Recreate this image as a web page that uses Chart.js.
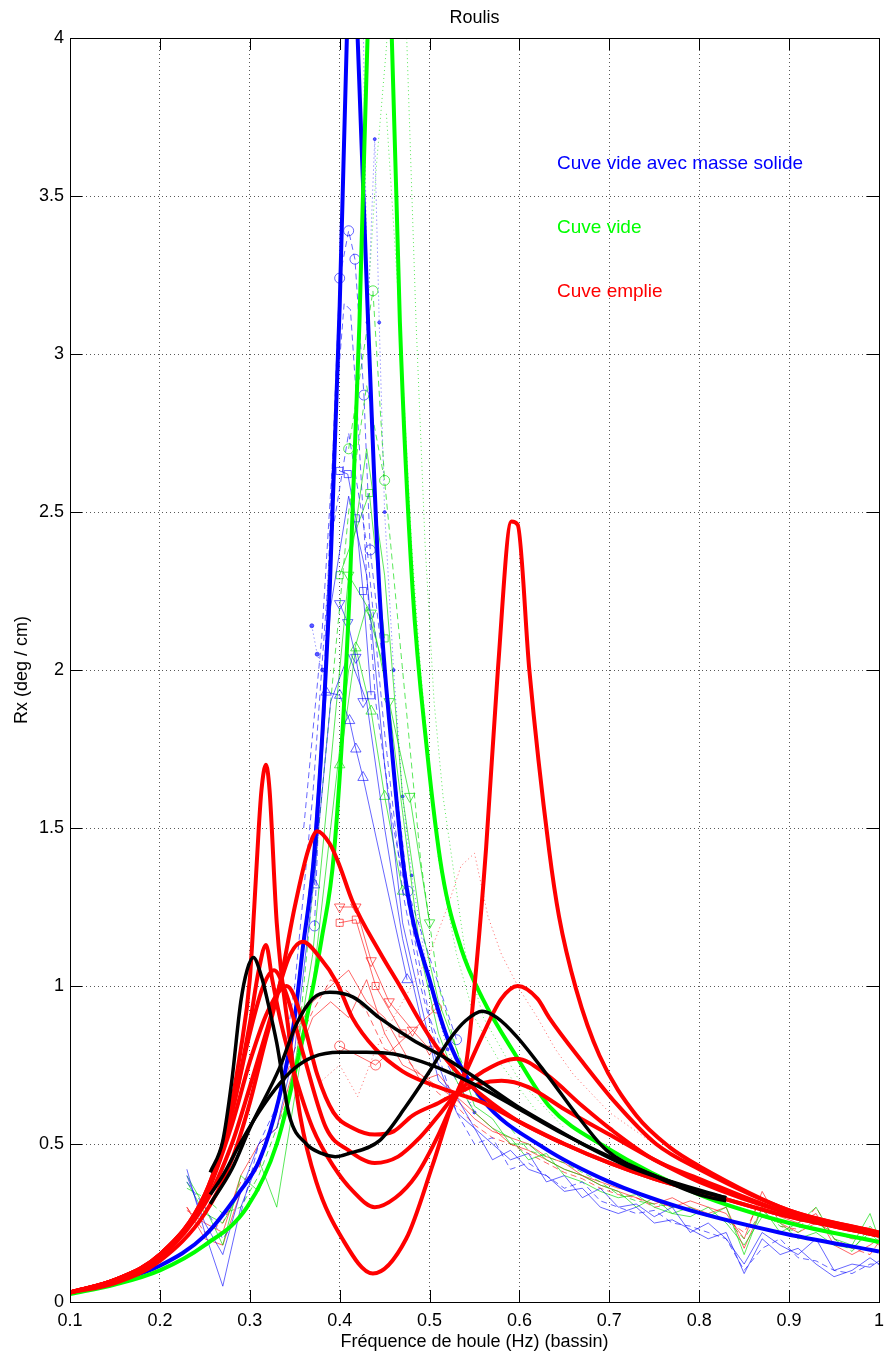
<!DOCTYPE html>
<html>
<head>
<meta charset="utf-8">
<title>Roulis</title>
<script src="https://cdn.jsdelivr.net/npm/chart.js@4.4.1/dist/chart.umd.min.js"></script>
<style>
  html, body { margin: 0; padding: 0; background: #fff; }
  #wrap { width: 886px; height: 1358px; }
</style>
</head>
<body>
<div id="wrap"><canvas id="roulis" width="886" height="1358"></canvas></div>
<script>
// axis ticks
var xTicks = [0.1, 0.2, 0.3, 0.4, 0.5, 0.6, 0.7, 0.8, 0.9, 1];
var yTicks = [0, 0.5, 1, 1.5, 2, 2.5, 3, 3.5, 4];

// modele - cuve vide avec masse solide (bleu)
var freqBlue = [0.10,0.15,0.20,0.25,0.289,0.311,0.333,0.35,0.359,0.372,0.389,0.40,0.408,0.414,0.42,0.431,0.444,0.458,0.472,0.503,0.522,0.559,0.626,0.70,0.778,0.889,1.00];
var rxBlue   = [0.03,0.065,0.115,0.21,0.35,0.45,0.65,0.9,1.12,1.43,2.26,3.15,4.0,4.5,4.0,3.15,2.26,1.75,1.36,0.99,0.82,0.64,0.49,0.38,0.30,0.22,0.16];

// modele - cuve vide (vert)
var freqGreen = [0.10,0.15,0.20,0.25,0.297,0.33,0.359,0.38,0.394,0.411,0.422,0.431,0.444,0.458,0.467,0.481,0.497,0.514,0.535,0.559,0.596,0.633,0.696,0.80,0.90,1.00];
var rxGreen   = [0.025,0.055,0.10,0.18,0.30,0.5,0.84,1.15,1.43,2.24,3.1,4.0,4.6,4.0,3.1,2.26,1.75,1.36,1.12,0.96,0.78,0.62,0.49,0.34,0.25,0.19];

// modeles - cuve emplie (rouge)
var freqRedA = [0.10,0.15,0.20,0.25,0.27,0.29,0.30,0.305,0.31,0.313,0.318,0.322,0.33,0.344,0.356,0.374,0.403,0.437,0.474,0.503,0.522,0.541,0.552,0.563,0.576,0.591,0.598,0.611,0.633,0.644,0.663,0.689,0.73,0.767,0.80,0.90,1.00];
var rxRedA   = [0.03,0.07,0.15,0.33,0.5,0.8,1.02,1.25,1.5,1.62,1.70,1.62,1.2,0.84,0.59,0.38,0.2,0.09,0.2,0.43,0.6,0.76,1.06,1.44,2.0,2.47,2.46,2.0,1.43,1.22,0.99,0.78,0.59,0.49,0.43,0.29,0.22];
var freqRedB = [0.10,0.15,0.20,0.25,0.28,0.30,0.31,0.318,0.325,0.335,0.35,0.37,0.393,0.415,0.439,0.462,0.485,0.51,0.53,0.56,0.58,0.598,0.62,0.633,0.67,0.707,0.752,0.80,0.90,1.00];
var rxRedB   = [0.03,0.07,0.15,0.34,0.6,0.88,1.05,1.13,1.02,0.88,0.72,0.55,0.43,0.35,0.30,0.33,0.40,0.53,0.66,0.85,0.96,1.0,0.96,0.90,0.76,0.63,0.50,0.42,0.29,0.22];
var freqRedC = [0.10,0.15,0.20,0.25,0.28,0.30,0.315,0.327,0.34,0.36,0.385,0.41,0.439,0.465,0.489,0.51,0.53,0.56,0.597,0.63,0.67,0.70,0.75,0.80,0.90,1.00];
var rxRedC   = [0.03,0.07,0.15,0.34,0.6,0.85,1.0,1.05,0.98,0.78,0.55,0.48,0.44,0.46,0.52,0.59,0.66,0.73,0.77,0.72,0.62,0.55,0.45,0.39,0.28,0.21];
var freqRedD = [0.10,0.15,0.20,0.25,0.28,0.30,0.32,0.341,0.36,0.375,0.393,0.415,0.439,0.46,0.481,0.51,0.53,0.555,0.58,0.61,0.65,0.70,0.75,0.80,0.90,1.00];
var rxRedD   = [0.03,0.07,0.15,0.33,0.56,0.76,0.92,1.0,0.88,0.72,0.60,0.55,0.53,0.54,0.59,0.63,0.66,0.69,0.70,0.68,0.61,0.53,0.45,0.38,0.28,0.21];
var freqRedE = [0.10,0.15,0.20,0.25,0.28,0.30,0.32,0.333,0.345,0.359,0.378,0.397,0.414,0.44,0.47,0.50,0.53,0.56,0.60,0.65,0.70,0.75,0.80,0.90,1.00];
var rxRedE   = [0.03,0.07,0.14,0.31,0.5,0.68,0.87,1.0,1.1,1.14,1.09,1.01,0.9,0.8,0.73,0.69,0.66,0.63,0.57,0.5,0.44,0.39,0.35,0.27,0.21];
var freqRedF = [0.10,0.15,0.20,0.25,0.28,0.30,0.315,0.333,0.35,0.365,0.375,0.389,0.40,0.414,0.444,0.467,0.50,0.533,0.56,0.60,0.65,0.70,0.75,0.80,0.90,1.00];
var rxRedF   = [0.03,0.06,0.13,0.28,0.45,0.63,0.8,1.0,1.25,1.43,1.49,1.45,1.38,1.27,1.11,1.0,0.84,0.72,0.65,0.57,0.5,0.44,0.39,0.35,0.27,0.21];

// modeles noirs
var freqK1 = [0.256,0.27,0.28,0.29,0.297,0.304,0.313,0.32,0.33,0.344,0.363,0.38,0.395,0.41,0.444,0.474,0.50,0.522,0.54,0.559,0.575,0.597,0.633,0.667,0.697,0.75,0.80,0.83];
var rxK1   = [0.41,0.51,0.7,0.95,1.05,1.09,1.03,0.95,0.82,0.59,0.5,0.47,0.46,0.47,0.51,0.62,0.73,0.83,0.89,0.92,0.9,0.84,0.71,0.58,0.48,0.40,0.34,0.32];
var freqK2 = [0.256,0.28,0.30,0.333,0.352,0.37,0.389,0.415,0.444,0.481,0.519,0.556,0.597,0.633,0.67,0.72,0.77,0.83];
var rxK2   = [0.31,0.42,0.55,0.74,0.88,0.96,0.98,0.965,0.9,0.83,0.77,0.7,0.62,0.56,0.5,0.43,0.38,0.33];
var freqK3 = [0.256,0.27,0.289,0.31,0.333,0.35,0.37,0.40,0.43,0.46,0.481,0.519,0.556,0.60,0.65,0.70,0.75,0.80,0.83];
var rxK3   = [0.34,0.40,0.5,0.6,0.69,0.74,0.775,0.79,0.79,0.785,0.77,0.73,0.68,0.61,0.53,0.46,0.40,0.35,0.33];

// essais en houle irreguliere (traits fins)
var freqTest = [0.23,0.25,0.27,0.29,0.31,0.33,0.35,0.37,0.39,0.41,0.43,0.45,0.47,0.49,0.51,0.53,0.55,0.57,0.59,0.61,0.63,0.65,0.67,0.69,0.71,0.73,0.75,0.77,0.79,0.81,0.83,0.85,0.87,0.89,0.91,0.93,0.95,0.97,0.99,1.0];
var rxTestBlue1  = [0.42,0.22,0.05,0.30,0.45,0.60,0.90,1.40,2.20,2.55,2.30,1.70,1.20,0.95,0.70,0.65,0.55,0.50,0.45,0.47,0.38,0.40,0.33,0.36,0.30,0.31,0.27,0.30,0.22,0.25,0.20,0.12,0.22,0.18,0.15,0.20,0.10,0.12,0.11,0.13];
var rxTestBlue2  = [0.40,0.25,0.15,0.35,0.50,0.55,0.80,1.30,1.90,2.05,1.90,1.50,1.15,0.90,0.75,0.60,0.55,0.45,0.48,0.42,0.40,0.35,0.36,0.30,0.28,0.30,0.25,0.26,0.23,0.20,0.22,0.09,0.20,0.15,0.17,0.12,0.08,0.10,0.14,0.12];
var rxTestBlue3  = [0.38,0.30,0.20,0.28,0.50,0.62,1.00,1.60,2.40,2.75,2.40,1.80,1.30,1.00,0.78,0.60,0.50,0.52,0.42,0.44,0.40,0.36,0.38,0.32,0.30,0.28,0.29,0.25,0.24,0.22,0.20,0.10,0.17,0.20,0.14,0.13,0.10,0.09,0.12,0.12];
var rxTestGreen1 = [0.40,0.30,0.18,0.40,0.35,0.50,0.75,1.10,1.70,2.30,2.70,2.30,1.60,1.20,0.95,0.80,0.62,0.58,0.50,0.50,0.45,0.42,0.40,0.37,0.35,0.30,0.33,0.28,0.30,0.27,0.30,0.15,0.30,0.22,0.25,0.30,0.20,0.18,0.28,0.20];
var rxTestGreen2 = [0.38,0.28,0.25,0.35,0.45,0.30,0.65,1.00,1.50,2.00,2.20,2.00,1.55,1.10,0.85,0.70,0.60,0.55,0.52,0.45,0.47,0.40,0.38,0.35,0.33,0.34,0.30,0.28,0.27,0.30,0.25,0.18,0.27,0.25,0.20,0.22,0.18,0.17,0.22,0.19];
var rxTestGreen3 = [0.36,0.33,0.28,0.30,0.40,0.55,0.70,1.30,1.90,2.50,2.90,2.60,2.00,1.40,1.00,0.80,0.66,0.60,0.55,0.48,0.46,0.44,0.41,0.38,0.34,0.32,0.31,0.30,0.29,0.28,0.26,0.20,0.29,0.24,0.22,0.26,0.20,0.16,0.24,0.21];
var rxTestRed1   = [0.30,0.20,0.18,0.35,0.45,0.60,0.85,0.95,1.00,1.05,0.95,0.90,0.80,0.70,0.72,0.65,0.60,0.55,0.50,0.48,0.45,0.42,0.40,0.38,0.36,0.35,0.32,0.30,0.32,0.30,0.28,0.20,0.35,0.25,0.22,0.25,0.22,0.20,0.20,0.18];
var rxTestRed2   = [0.29,0.25,0.22,0.40,0.50,0.55,0.75,0.90,0.95,0.90,1.02,0.85,0.75,0.72,0.68,0.64,0.58,0.54,0.52,0.50,0.46,0.44,0.40,0.37,0.35,0.33,0.31,0.33,0.30,0.28,0.30,0.17,0.30,0.27,0.25,0.28,0.18,0.15,0.18,0.20];
var rxTestRed3   = [0.30,0.22,0.25,0.38,0.42,0.62,0.80,0.92,1.02,0.98,0.92,0.80,0.78,0.72,0.66,0.62,0.56,0.52,0.50,0.47,0.44,0.41,0.39,0.36,0.34,0.33,0.30,0.31,0.29,0.27,0.26,0.22,0.33,0.24,0.23,0.30,0.20,0.17,0.15,0.19];

// essais en houle reguliere (marqueurs)
var freqBlueCirc = [0.372,0.40,0.41,0.417,0.427,0.434,0.476,0.53];
var rxBlueCirc   = [1.19,3.24,3.39,3.30,2.87,2.38,1.30,0.83];
var freqBlueSq = [0.40,0.409,0.418,0.426,0.435];
var rxBlueSq   = [2.63,2.62,2.48,2.25,1.92];
var freqBlueTriDn = [0.40,0.409,0.418,0.426];
var rxBlueTriDn   = [2.21,2.15,2.04,1.90];
var freqBlueTriUp = [0.372,0.385,0.40,0.411,0.418,0.426,0.475];
var rxBlueTriUp   = [1.32,1.93,1.92,1.84,1.75,1.66,1.02];
var freqBlueDash = [0.36,0.38,0.395,0.405,0.412,0.42,0.43,0.44,0.46,0.48,0.50,0.52,0.55];
var rxBlueDash   = [1.5,2.1,2.8,3.16,3.14,2.8,2.3,1.9,1.5,1.2,0.9,0.75,0.6];
var freqBlueDot = [0.426,0.431,0.439,0.444,0.45,0.46,0.47,0.48,0.50,0.52,0.55];
var rxBlueDot   = [4.1,3.1,3.68,3.1,2.5,2.0,1.6,1.35,1.0,0.8,0.6];
var freqBlueDot2 = [0.369,0.375,0.381];
var rxBlueDot2   = [2.14,2.05,2.0];
var freqGreenTriUp = [0.40,0.418,0.435,0.45,0.47];
var rxGreenTriUp   = [1.7,2.07,1.87,1.6,1.3];
var freqGreenTriDn = [0.41,0.435,0.455,0.478,0.50];
var rxGreenTriDn   = [2.3,2.18,1.9,1.60,1.2];
var freqGreenCirc = [0.41,0.437,0.45];
var rxGreenCirc   = [2.7,3.2,2.6];
var freqGreenSq = [0.40,0.433,0.45];
var rxGreenSq   = [2.3,2.56,2.1];
var freqGreenDot1 = [0.43,0.441,0.452,0.456];
var rxGreenDot1   = [3.1,3.6,3.97,4.2];
var freqGreenDot2 = [0.452,0.467,0.48,0.49,0.50,0.51,0.53,0.55,0.58,0.62];
var rxGreenDot2   = [3.76,3.1,2.4,2.0,1.7,1.4,1.1,0.9,0.75,0.6];
var freqGreenDot3 = [0.474,0.485,0.495,0.505,0.515,0.525,0.54,0.56,0.60,0.65];
var rxGreenDot3   = [4.05,3.1,2.4,1.9,1.6,1.4,1.1,0.9,0.7,0.55];
var freqRedTriDn = [0.40,0.418,0.435,0.455,0.481,0.50];
var rxRedTriDn   = [1.25,1.25,1.08,0.95,0.86,0.8];
var freqRedSq = [0.40,0.418,0.44,0.47];
var rxRedSq   = [1.2,1.21,1.0,0.85];
var freqRedCirc = [0.40,0.44,0.508];
var rxRedCirc   = [0.81,0.75,0.93];
var freqRedDot = [0.38,0.40,0.42,0.44,0.46,0.48,0.50,0.52,0.535,0.55,0.565,0.58,0.60,0.62,0.64,0.66,0.70,0.75,0.80];
var rxRedDot   = [0.7,0.75,0.65,0.8,0.9,1.0,1.1,1.25,1.38,1.42,1.22,1.1,0.99,0.9,0.8,0.72,0.6,0.5,0.42];

var FONT = '"Liberation Sans", Arial, Helvetica, sans-serif';
var BLUE = '#0000ff', GREEN = '#00ff00', RED = '#ff0000', BLACK = '#000000';
var BLUE_T = 'rgba(0,0,255,0.6)', GREEN_T = 'rgba(0,220,0,0.65)', RED_T = 'rgba(255,0,0,0.6)';

function pts(xs, ys) {
  return xs.map(function (x, i) { return { x: x, y: ys[i] }; });
}

function model(xs, ys, color, width, order) {
  return {
    data: pts(xs, ys), borderColor: color, borderWidth: width,
    pointRadius: 0, cubicInterpolationMode: 'monotone', fill: false, order: order
  };
}

function test(xs, ys, color, opts) {
  opts = opts || {};
  return {
    data: pts(xs, ys), borderColor: color, borderWidth: 1,
    borderDash: opts.dash || [],
    pointRadius: opts.radius || 0,
    pointStyle: opts.style || 'circle',
    rotation: opts.rotation || 0,
    pointBorderColor: color,
    pointBorderWidth: 1,
    pointBackgroundColor: opts.filled ? color : 'rgba(0,0,0,0)',
    tension: 0, fill: false, order: 10
  };
}

var datasets = [
  // thin experimental lines first (drawn underneath)
  test(freqTest, rxTestBlue1, BLUE_T),
  test(freqTest, rxTestBlue2, BLUE_T),
  test(freqTest, rxTestBlue3, BLUE_T, { dash: [6, 4] }),
  test(freqTest, rxTestGreen1, GREEN_T),
  test(freqTest, rxTestGreen2, GREEN_T),
  test(freqTest, rxTestGreen3, GREEN_T, { dash: [6, 4] }),
  test(freqTest, rxTestRed1, RED_T),
  test(freqTest, rxTestRed2, RED_T),
  test(freqTest, rxTestRed3, RED_T, { dash: [6, 4] }),
  test(freqBlueCirc, rxBlueCirc, BLUE_T, { radius: 5, dash: [6, 4] }),
  test(freqBlueSq, rxBlueSq, BLUE_T, { radius: 5, style: 'rect' }),
  test(freqBlueTriDn, rxBlueTriDn, BLUE_T, { radius: 6, style: 'triangle', rotation: 180 }),
  test(freqBlueTriUp, rxBlueTriUp, BLUE_T, { radius: 6, style: 'triangle' }),
  test(freqBlueDash, rxBlueDash, BLUE_T, { dash: [6, 4] }),
  test(freqBlueDot, rxBlueDot, BLUE_T, { dash: [1, 3], radius: 1.5, filled: true }),
  test(freqBlueDot2, rxBlueDot2, BLUE_T, { dash: [1, 3], radius: 2, filled: true }),
  test(freqGreenTriUp, rxGreenTriUp, GREEN_T, { radius: 6, style: 'triangle' }),
  test(freqGreenTriDn, rxGreenTriDn, GREEN_T, { radius: 6, style: 'triangle', rotation: 180 }),
  test(freqGreenCirc, rxGreenCirc, GREEN_T, { radius: 5, dash: [6, 4] }),
  test(freqGreenSq, rxGreenSq, GREEN_T, { radius: 5, style: 'rect' }),
  test(freqGreenDot1, rxGreenDot1, GREEN_T, { dash: [1, 3] }),
  test(freqGreenDot2, rxGreenDot2, GREEN_T, { dash: [1, 3] }),
  test(freqGreenDot3, rxGreenDot3, GREEN_T, { dash: [1, 3] }),
  test(freqRedTriDn, rxRedTriDn, RED_T, { radius: 6, style: 'triangle', rotation: 180 }),
  test(freqRedSq, rxRedSq, RED_T, { radius: 5, style: 'rect' }),
  test(freqRedCirc, rxRedCirc, RED_T, { radius: 5 }),
  test(freqRedDot, rxRedDot, RED_T, { dash: [1, 3] }),
  // models
  model(freqBlue, rxBlue, BLUE, 4, 4),
  model(freqGreen, rxGreen, GREEN, 4, 3),
  model(freqRedA, rxRedA, RED, 4, 2),
  model(freqRedB, rxRedB, RED, 4, 2),
  model(freqRedC, rxRedC, RED, 4, 2),
  model(freqRedD, rxRedD, RED, 4, 2),
  model(freqRedE, rxRedE, RED, 4, 2),
  model(freqRedF, rxRedF, RED, 4, 2),
  model(freqK1, rxK1, BLACK, 3.5, 1),
  model(freqK2, rxK2, BLACK, 3.5, 1),
  model(freqK3, rxK3, BLACK, 3.5, 1)
];

// box, inward ticks, title, labels and coloured notes
var frame = {
  id: 'frame',
  afterDraw: function (chart) {
    var ctx = chart.ctx, a = chart.chartArea;
    var sx = chart.scales.x, sy = chart.scales.y;
    ctx.save();
    ctx.strokeStyle = '#000';
    ctx.lineWidth = 1;
    ctx.beginPath();
    xTicks.forEach(function (v) {
      var px = Math.round(sx.getPixelForValue(v)) + 0.5;
      ctx.moveTo(px, a.bottom); ctx.lineTo(px, a.bottom - 12);
      ctx.moveTo(px, a.top); ctx.lineTo(px, a.top + 12);
    });
    yTicks.forEach(function (v) {
      var py = Math.round(sy.getPixelForValue(v)) + 0.5;
      ctx.moveTo(a.left, py); ctx.lineTo(a.left + 12, py);
      ctx.moveTo(a.right, py); ctx.lineTo(a.right - 12, py);
    });
    ctx.stroke();
    ctx.strokeRect(Math.round(a.left) + 0.5, Math.round(a.top) + 0.5,
      Math.round(a.right - a.left), Math.round(a.bottom - a.top));

    var cx = (a.left + a.right) / 2;
    ctx.fillStyle = '#000';
    ctx.textAlign = 'center';
    ctx.textBaseline = 'middle';
    ctx.font = '18px ' + FONT;
    ctx.fillText('Roulis', cx, 18);
    ctx.fillText('Fréquence de houle (Hz) (bassin)', cx, 1342);
    ctx.save();
    ctx.translate(22, (a.top + a.bottom) / 2);
    ctx.rotate(-Math.PI / 2);
    ctx.fillText('Rx (deg / cm)', 0, 0);
    ctx.restore();

    ctx.textAlign = 'left';
    ctx.font = '19px ' + FONT;
    ctx.fillStyle = BLUE;
    ctx.fillText('Cuve vide avec masse solide', 557, 164);
    ctx.fillStyle = GREEN;
    ctx.fillText('Cuve vide', 557, 228);
    ctx.fillStyle = RED;
    ctx.fillText('Cuve emplie', 557, 292);
    ctx.restore();
  }
};

new Chart(document.getElementById('roulis'), {
  type: 'line',
  data: { datasets: datasets },
  options: {
    responsive: false,
    animation: false,
    devicePixelRatio: 1,
    layout: { padding: { top: 38, right: 6, left: 0, bottom: 0 } },
    plugins: { legend: { display: false }, tooltip: { enabled: false }, title: { display: false } },
    scales: {
      x: {
        type: 'linear', min: 0.1, max: 1,
        afterFit: function (s) { s.height = 56; s.paddingLeft = 0; s.paddingRight = 0; },
        afterBuildTicks: function (s) { s.ticks = xTicks.map(function (v) { return { value: v }; }); },
        ticks: {
          color: '#000', padding: 8, maxRotation: 0, autoSkip: false,
          font: { family: FONT, size: 18 },
          callback: function (v) { return String(Math.round(v * 10) / 10); }
        },
        grid: { color: 'rgba(0,0,0,0.65)', lineWidth: 1, drawTicks: false },
        border: { display: false, dash: [1, 3] }
      },
      y: {
        type: 'linear', min: 0, max: 4,
        afterFit: function (s) { s.width = 70; s.paddingTop = 0; s.paddingBottom = 0; },
        afterBuildTicks: function (s) { s.ticks = yTicks.map(function (v) { return { value: v }; }); },
        ticks: {
          color: '#000', padding: 6,
          font: { family: FONT, size: 18 },
          callback: function (v) { return String(v); }
        },
        grid: { color: 'rgba(0,0,0,0.65)', lineWidth: 1, drawTicks: false },
        border: { display: false, dash: [1, 3] }
      }
    }
  },
  plugins: [frame]
});
</script>
</body>
</html>
